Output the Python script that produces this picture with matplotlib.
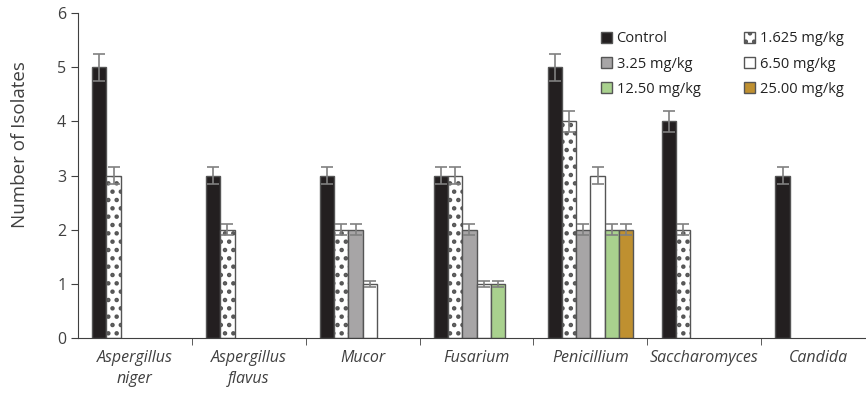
import numpy as np
import matplotlib.pyplot as plt
from matplotlib.ticker import FixedLocator

plt.rcParams['font.family'] = ['Open Sans', 'DejaVu Sans']
plt.rcParams['hatch.linewidth'] = 2.0

genera = ['Aspergillus\nniger', 'Aspergillus\nflavus', 'Mucor', 'Fusarium',
          'Penicillium', 'Saccharomyces', 'Candida']
doses = ['Control', '1.625 mg/kg', '3.25 mg/kg', '6.50 mg/kg',
         '12.50 mg/kg', '25.00 mg/kg']

nan = np.nan
control = [5, 3, 3, 3, 5, 4, 3]
d1625 = [3, 2, 2, 3, 4, 2, nan]
d325 = [nan, nan, 2, 2, 2, nan, nan]
d650 = [nan, nan, 1, 1, 3, nan, nan]
d1250 = [nan, nan, nan, 1, 2, nan, nan]
d2500 = [nan, nan, nan, nan, 2, nan, nan]

err_control = [0.25, 0.15, 0.15, 0.15, 0.25, 0.2, 0.15]
err_d1625 = [0.15, 0.1, 0.1, 0.15, 0.2, 0.1, nan]
err_d325 = [nan, nan, 0.1, 0.1, 0.1, nan, nan]
err_d650 = [nan, nan, 0.05, 0.05, 0.15, nan, nan]
err_d1250 = [nan, nan, nan, 0.05, 0.1, nan, nan]
err_d2500 = [nan, nan, nan, nan, 0.1, nan, nan]

series = [control, d1625, d325, d650, d1250, d2500]
errors = [err_control, err_d1625, err_d325, err_d650, err_d1250, err_d2500]
colors = ['#231f20', 'white', '#a7a5a6', 'white', '#a9d18e', '#bf9030']
hatches = [None, '..', None, None, None, None]

fig = plt.figure(figsize=(8.66, 3.96), dpi=100)
ax = fig.add_axes([78 / 866, 58 / 396, 1 - 78 / 866, 325 / 396])

x = np.arange(len(genera))
w = 0.75 / 6
bars = []
for i, (vals, errs) in enumerate(zip(series, errors)):
    pos = x - 0.375 + w * (i + 0.5)
    b = ax.bar(pos, vals, w, color=colors[i], edgecolor='#555555', linewidth=1.0,
               hatch=hatches[i], label=doses[i], zorder=2)
    bars.append(b)
    ax.errorbar(pos, vals, yerr=errs, fmt='none', ecolor='#808080',
                elinewidth=1.2, capsize=4, capthick=1.2, zorder=3)

ax.set_xlim(-0.5, 6.42)
ax.set_ylim(0, 6)
ax.set_yticks(range(7))
ax.set_xticks(x)
ax.set_xticklabels(genera, style='italic', fontsize=11.5, linespacing=1.35)
ax.xaxis.set_minor_locator(FixedLocator(np.arange(0.5, 6.5, 1)))
ax.tick_params(axis='x', which='major', length=0, pad=9)
ax.tick_params(axis='x', which='minor', length=5, color='#404040')
ax.tick_params(axis='y', length=5, color='#404040', labelsize=11.5)
ax.tick_params(labelcolor='#404040')
for s in ['top', 'right']:
    ax.spines[s].set_visible(False)
for s in ['left', 'bottom']:
    ax.spines[s].set_color('#404040')
ax.set_ylabel('Number of Isolates', fontsize=13.5, color='#404040')
ax.yaxis.set_label_coords(-0.062, 0.594)

# row-major legend order: Control, 1.625 / 3.25, 6.50 / 12.50, 25.00
order = [0, 2, 4, 1, 3, 5]
ax.legend([bars[k] for k in order], [doses[k] for k in order], ncol=2,
          loc='upper left', bbox_to_anchor=(594 / 866, 1 - 24 / 396),
          bbox_transform=fig.transFigure, frameon=False, borderpad=0,
          fontsize=10.5, handlelength=0.75, handleheight=0.75, handletextpad=0.3,
          columnspacing=3.0, labelspacing=0.7, labelcolor='#222222')

fig.savefig('out.png', dpi=100)
